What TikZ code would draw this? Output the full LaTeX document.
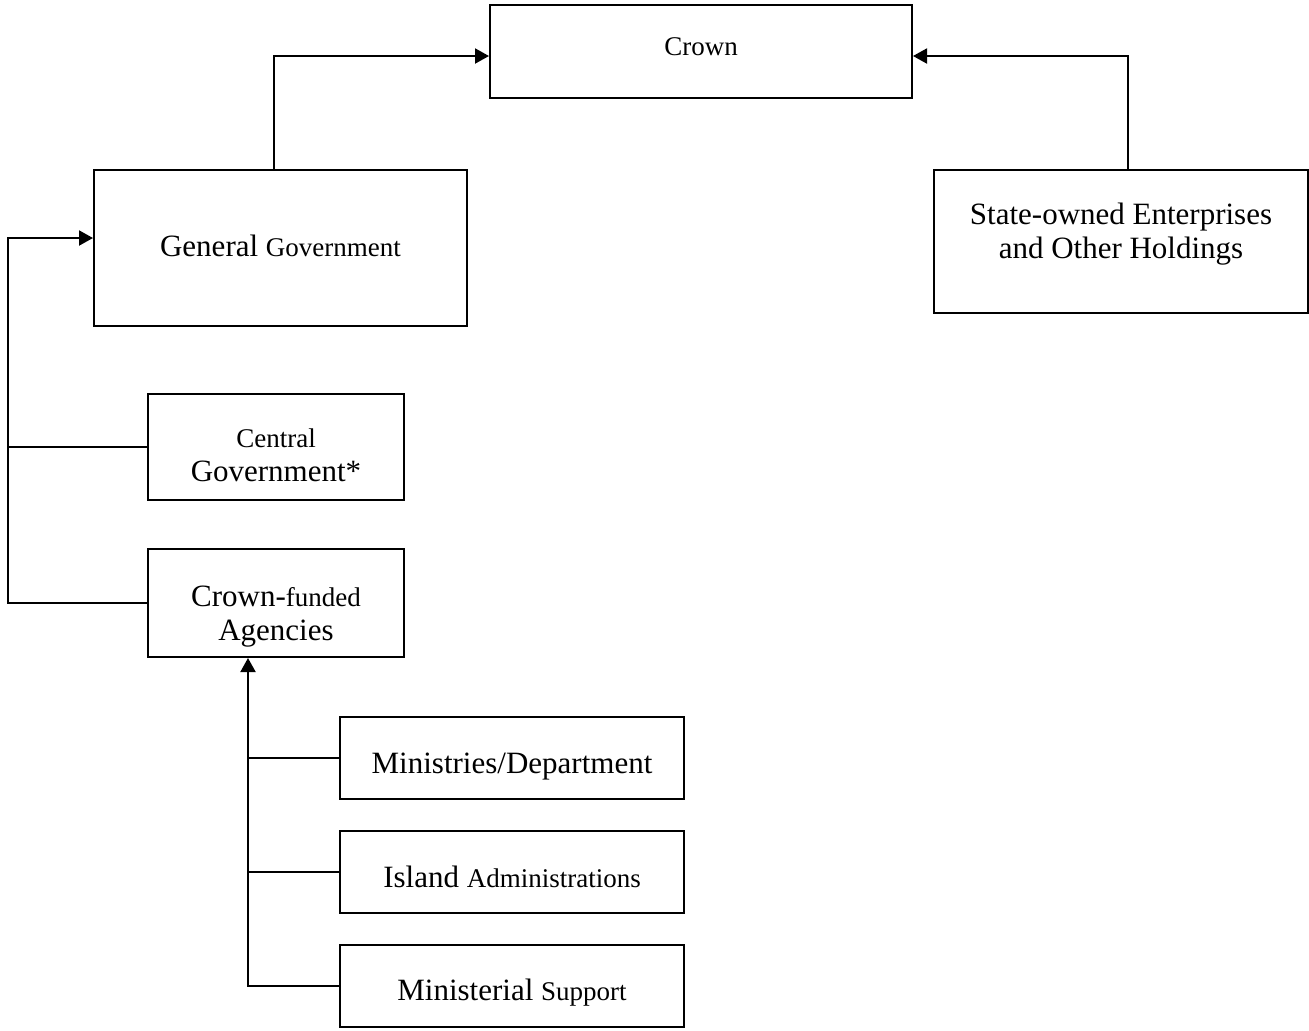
\documentclass[tikz,border=0pt]{standalone}
\usepackage{fontspec}
\setmainfont{Liberation Serif}
\usetikzlibrary{arrows.meta}
\newcommand{\bigtxt}{\fontsize{15.5}{17}\selectfont}
\newcommand{\smtxt}{\fontsize{13.5}{17}\selectfont}
\tikzset{
  box/.style={draw, line width=1pt, rectangle, inner sep=0pt, align=center, font=\bigtxt},
  conn/.style={line width=1pt},
  arr/.style={line width=1pt, -{Triangle[length=7pt,width=7.5pt]}}
}
\begin{document}
\begin{tikzpicture}[x=0.5pt,y=-0.5pt]
\useasboundingbox (0,0) rectangle (1309,1030);
% boxes
\node[box, minimum width=211pt, minimum height=46.5pt, text depth=4.5pt] (crown) at (701,51.5) {\smtxt Crown};
\node[box, minimum width=186.5pt, minimum height=78pt, text depth=2pt] (gg) at (280.5,248) {General {\smtxt Government}};
\node[box, minimum width=187pt, minimum height=71.5pt, text depth=10.4pt] (soe) at (1121,241.5) {State-owned Enterprises\\and Other Holdings};
\node[box, minimum width=128pt, minimum height=53pt, text height=34.2pt] (cg) at (276,447) {{\smtxt Central}\\Government*};
\node[box, minimum width=128pt, minimum height=54pt, text height=40.5pt] (cfa) at (276,603) {Crown-{\smtxt funded}\\Agencies};
\node[box, minimum width=172pt, minimum height=41pt, text height=18.6pt] (mind) at (512,758) {Ministries/Department};
\node[box, minimum width=172pt, minimum height=41pt, text height=15.6pt] (isl) at (512,872) {Island {\smtxt Administrations}};
\node[box, minimum width=172pt, minimum height=41pt, text height=17.6pt] (mins) at (512,986) {Ministerial {\smtxt Support}};
% helper coordinates
\coordinate (cl) at (274,56);
\coordinate (cr) at (1128,56);
\coordinate (lb) at (8,238);
\coordinate (bb) at (248,986);
% connectors
\draw[arr] (gg.north -| cl) -- (cl) -- (crown.west |- cl);
\draw[arr] (soe.north -| cr) -- (cr) -- (crown.east |- cr);
\draw[arr] (cfa.west) -- (cfa.west -| lb) -- (lb) -- (gg.west |- lb);
\draw[conn] (cg.west) -- (cg.west -| lb);
\draw[arr] (mins.west) -- (mins.west -| bb) -- (cfa.south -| bb);
\draw[conn] (mind.west) -- (mind.west -| bb);
\draw[conn] (isl.west) -- (isl.west -| bb);
\end{tikzpicture}
\end{document}
